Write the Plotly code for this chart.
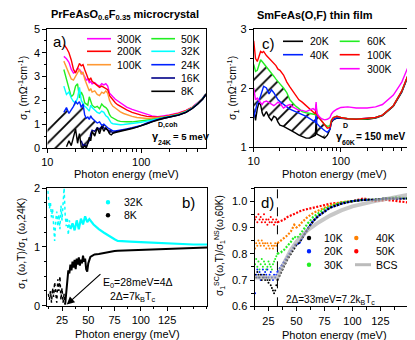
import plotly.graph_objects as go

W, H = 415, 340
FONT = "Liberation Sans, Arial, sans-serif"

# ---------------- panel a: PrFeAsO0.6F0.35 microcrystal ----------------
a_energy = [15, 16, 17, 18, 19, 20, 21, 22, 23, 24, 25, 26, 27, 28, 29, 30,
            32, 34, 36, 38, 40, 42, 44, 46, 48, 50, 53, 56, 60, 65, 70,
            80, 90, 100, 115, 130, 150, 175, 200, 250, 300, 350, 400, 450, 490]
a_300K = [3.85, 3.75, 3.6, 3.3, 3.15, 3.2, 3.35, 3.3, 3.2, 3.1, 3.0, 2.85, 2.9, 2.75, 2.8, 2.7,
          2.75, 2.65, 2.6, 2.7, 2.65, 2.7, 2.6, 2.3, 2.2, 2.15, 2.05, 1.98, 1.9, 1.8, 1.72,
          1.62, 1.55, 1.48, 1.4, 1.35, 1.32, 1.35, 1.39, 1.47, 1.58, 1.72, 1.9, 2.08, 2.28]
a_200K = [4.35, 4.2, 4.0, 3.7, 3.3, 3.15, 3.35, 3.55, 3.45, 3.5, 3.3, 3.1, 2.95, 2.85, 2.95, 2.8,
          2.7, 2.6, 2.55, 2.6, 2.55, 2.5, 2.45, 2.2, 2.1, 2.0, 1.9, 1.82, 1.75, 1.68, 1.6,
          1.5, 1.43, 1.38, 1.33, 1.3, 1.29, 1.32, 1.37, 1.45, 1.57, 1.71, 1.89, 2.08, 2.28]
a_100K = [3.65, 3.4, 3.1, 2.9, 2.85, 3.0, 3.2, 3.3, 3.1, 3.2, 2.9, 2.7, 2.5, 2.4, 2.5, 2.35,
          2.4, 2.25, 2.2, 2.35, 2.3, 2.4, 2.3, 2.0, 1.85, 1.75, 1.68, 1.6, 1.52, 1.45, 1.4,
          1.33, 1.28, 1.25, 1.24, 1.24, 1.26, 1.3, 1.35, 1.43, 1.55, 1.7, 1.88, 2.07, 2.27]
a_50K = [3.3, 2.9, 2.5, 2.15, 2.25, 2.6, 2.7, 2.1, 2.35, 2.2, 1.9, 1.85, 1.8, 2.15, 2.0, 1.8,
         1.7, 1.75, 1.65, 1.85, 1.75, 1.7, 1.6, 1.4, 1.3, 1.25, 1.2, 1.15, 1.12, 1.1, 1.1,
         1.1, 1.12, 1.13, 1.16, 1.2, 1.24, 1.28, 1.33, 1.41, 1.53, 1.69, 1.87, 2.07, 2.27]
a_32K = [2.6, 2.25, 2.35, 2.1, 1.95, 1.9, 2.1, 2.55, 2.0, 1.85, 1.75, 1.7, 1.6, 1.55, 1.8, 1.7,
         1.6, 1.5, 1.45, 1.55, 1.5, 1.35, 1.3, 1.15, 1.05, 1.02, 1.0, 0.98, 0.98, 0.99, 1.0,
         1.02, 1.05, 1.08, 1.13, 1.18, 1.22, 1.27, 1.32, 1.4, 1.52, 1.68, 1.87, 2.07, 2.27]
a_24K = [1.5, 1.7, 1.45, 1.6, 1.75, 1.95, 1.85, 1.95, 1.7, 1.85, 1.4, 1.25, 1.3, 1.2, 1.35, 1.25,
         1.15, 1.05, 1.1, 0.95, 1.0, 0.9, 0.85, 0.8, 0.75, 0.72, 0.72, 0.73, 0.75, 0.78, 0.8,
         0.85, 0.9, 0.95, 1.05, 1.13, 1.2, 1.26, 1.31, 1.39, 1.51, 1.67, 1.86, 2.06, 2.26]
a_16K = [None, None, None, None, None, None, None, None, 0.3, 0.1, 0.15, 0.05, 0.2, 0.3, 0.6, 0.75,
         0.7, 0.85, 0.8, 0.9, 0.85, 0.8, 0.78, 0.7, 0.68, 0.66, 0.68, 0.7, 0.72, 0.74, 0.77,
         0.82, 0.88, 0.94, 1.03, 1.11, 1.19, 1.25, 1.3, 1.38, 1.5, 1.66, 1.85, 2.05, 2.25]
a_8K = [None, 0.05, 0.3, 0.1, 0.5, 0.8, 0.2, 0.6, 0.05, 0.0, 0.1, 0.0, 0.2, 0.45, 0.3, 0.7,
        0.5, 0.85, 0.6, 0.9, 0.7, 0.85, 0.75, 0.6, 0.55, 0.62, 0.65, 0.67, 0.7, 0.73, 0.76,
        0.82, 0.88, 0.93, 1.02, 1.1, 1.18, 1.25, 1.3, 1.38, 1.5, 1.66, 1.85, 2.05, 2.25]
# Drude extrapolation of the 24K curve below the measured range
a_drude_energy = [10, 12, 14]
a_drude_24K = [1.15, 1.35, 1.5]

# ---------------- panel c: SmFeAs(O,F) thin film ----------------
c_energy = [10, 10.5, 11, 11.5, 12, 12.5, 13, 14, 15, 16, 17, 18, 19, 20,
            22, 24, 26, 28, 30, 33, 36, 40, 44, 48, 51, 52, 53, 56, 60,
            65, 70, 75, 78, 82, 90, 100, 120, 150, 200, 250, 300, 400, 500, 600, 690]
c_100K = [2.8, 2.5, 2.45, 2.55, 2.62, 2.6, 2.62, 2.55, 2.5, 2.45, 2.42, 2.38, 2.32, 2.3,
          2.22, 2.1, 2.02, 1.95, 1.88, 1.8, 1.76, 1.7, 1.65, 1.6, 1.56, 1.68, 1.55, 1.5, 1.44,
          1.38, 1.32, 1.33, 1.45, 1.5, 1.52, 1.5, 1.48, 1.47, 1.48, 1.5, 1.54, 1.7, 1.95, 2.25, 2.48]
c_60K = [2.4, 2.28, 2.3, 2.42, 2.48, 2.45, 2.42, 2.35, 2.3, 2.25, 2.2, 2.15, 2.1, 2.07,
         2.0, 1.92, 1.8, 1.74, 1.7, 1.65, 1.6, 1.58, 1.57, 1.55, 1.55, 1.72, 1.54, 1.5, 1.45,
         1.38, 1.35, 1.36, 1.46, 1.5, 1.52, 1.5, 1.48, 1.47, 1.48, 1.5, 1.54, 1.7, 1.95, 2.25, 2.48]
c_40K = [1.5, 1.65, 1.75, 1.78, 1.85, 1.95, 2.03, 2.0, 1.9, 1.97, 1.92, 1.85, 1.8, 1.77,
         1.73, 1.68, 1.64, 1.62, 1.6, 1.57, 1.55, 1.52, 1.48, 1.45, 1.42, 1.58, 1.4, 1.36, 1.32,
         1.28, 1.25, 1.3, 1.44, 1.47, 1.5, 1.49, 1.48, 1.47, 1.48, 1.5, 1.54, 1.7, 1.94, 2.24, 2.47]
c_20K = [1.65, 1.45, 1.65, 1.75, 1.72, 1.58, 1.52, 1.6, 1.5, 1.45, 1.52, 1.5, 1.42, 1.37,
         1.35, 1.32, 1.3, 1.26, 1.24, 1.2, 1.18, 1.15, 1.15, 1.18, 1.2, 1.46, 1.22, 1.2, 1.17,
         1.15, 1.2, 1.3, 1.42, 1.46, 1.49, 1.49, 1.48, 1.47, 1.47, 1.49, 1.53, 1.69, 1.93, 2.23, 2.46]
c_300K = [2.0, 1.8, 1.83, 1.78, 1.75, 1.72, 1.76, 1.78, 1.75, 1.72, 1.7, 1.73, 1.76, 1.74,
          1.66, 1.7, 1.72, 1.68, 1.65, 1.62, 1.62, 1.6, 1.63, 1.65, 1.62, 1.76, 1.58, 1.52, 1.48,
          1.46, 1.47, 1.5, 1.56, 1.6, 1.64, 1.67, 1.68, 1.66, 1.66, 1.68, 1.72, 1.88, 2.1, 2.38, 2.6]

# ---------------- panel b: ratio sigma1(T)/sigma1(24K) ----------------
b_32K_low_E = [11.5, 12, 13, 14, 15, 16, 17, 18, 19, 20, 21, 22, 23, 24, 25, 26, 27, 28, 29, 30, 31, 32, 33]
b_32K_low = [1.95, 1.85, 1.65, 1.75, 1.5, 1.65, 1.3, 1.1, 1.45, 1.6, 1.35, 1.55, 1.3, 1.7, 1.45, 1.75,
             2.0, 1.55, 1.35, 1.5, 1.2, 1.45, 1.3]
b_32K_E = [33, 35, 37, 39, 41, 43, 45, 47, 49, 51, 55, 60, 65, 70, 75, 78, 80, 90, 100, 110, 120,
           130, 140, 150, 163]
b_32K = [1.3, 1.4, 1.28, 1.45, 1.3, 1.48, 1.38, 1.52, 1.42, 1.47, 1.38, 1.3, 1.24, 1.18, 1.13, 1.1,
         1.1, 1.09, 1.08, 1.07, 1.06, 1.05, 1.045, 1.04, 1.04]
b_8K_low_E = [12, 13, 14, 15, 16, 17, 18, 19, 20, 21, 22, 23, 24, 25, 26, 27, 28]
b_8K_low = [0.2, 0.1, 0.25, 0.05, 0.3, 0.15, 0.4, 0.2, 0.05, 0.45, 0.25, 0.5, 0.1, 0.3, 0.05, 0.2, 0.02]
b_8K_E = [28, 29, 30, 31, 32, 33, 34, 35, 36, 37, 38, 39, 40, 41, 42, 43, 44, 45, 46, 47, 48, 49,
          50, 51, 52, 54, 56, 60, 65, 70, 75, 78, 85, 90, 100, 110, 120, 130, 140, 150, 163]
b_8K = [0.02, 0.2, 0.45, 0.6, 0.55, 0.7, 0.6, 0.75, 0.65, 0.78, 0.62, 0.8, 0.7, 0.82, 0.68, 0.78,
        0.72, 0.85, 0.75, 0.8, 0.62, 0.58, 0.72, 0.8, 0.83, 0.85, 0.87, 0.88, 0.9, 0.92, 0.93,
        0.935, 0.94, 0.945, 0.95, 0.96, 0.965, 0.975, 0.98, 0.985, 0.99]
b_E0 = 28

# ---------------- panel d: sigma1_SC / sigma1_NS(60K) ----------------
d_low_E = [13, 14, 15, 16, 17, 18, 19, 20, 21, 22, 23, 24, 25, 26, 27, 28, 29, 30, 31, 32, 33]
d_50K_low = [0.93, 0.94, 0.92, 0.95, 0.93, 0.94, 0.92, 0.93, 0.95, 0.92, 0.93, 0.91, 0.93, 0.92,
             0.94, 0.92, 0.93, 0.91, 0.92, 0.93, 0.92]
d_40K_low = [0.82, 0.84, 0.83, 0.85, 0.84, 0.83, 0.85, 0.84, 0.83, 0.84, 0.82, 0.84, 0.83, 0.82,
             0.84, 0.83, 0.82, 0.83, 0.84, 0.83, 0.84]
d_30K_low = [0.76, 0.78, 0.75, 0.77, 0.74, 0.76, 0.78, 0.75, 0.77, 0.76, 0.74, 0.75, 0.77, 0.76,
             0.75, 0.74, 0.76, 0.77, 0.78, 0.79, 0.8]
d_20K_low = [0.65, 0.72, 0.74, 0.71, 0.73, 0.7, 0.72, 0.74, 0.71, 0.73, 0.72, 0.74, 0.71, 0.72,
             0.73, 0.71, 0.7, 0.72, 0.71, 0.72, 0.73]
d_10K_low = [0.72, 0.71, 0.73, 0.72, 0.71, 0.72, 0.7, 0.71, 0.72, 0.7, 0.71, 0.7, 0.69, 0.7,
             0.68, 0.67, 0.66, 0.65, 0.66, 0.68, 0.7]
d_high_E = [33, 36, 39, 42, 45, 48, 50, 52, 55, 60, 65, 70, 75, 80, 90, 100, 110, 120, 130, 140, 150, 155]
d_50K = [0.92, 0.925, 0.93, 0.94, 0.945, 0.95, 0.955, 0.96, 0.965, 0.97, 0.975, 0.98, 0.985, 0.99,
         0.995, 1.0, 1.01, 1.0, 1.005, 1.0, 0.995, 1.0]
d_40K = [0.84, 0.85, 0.86, 0.87, 0.885, 0.91, 0.9, 0.905, 0.92, 0.94, 0.955, 0.965, 0.975, 0.985,
         0.995, 1.0, 1.005, 1.005, 1.01, 1.01, 1.01, 1.01]
d_30K = [0.8, 0.805, 0.815, 0.83, 0.845, 0.865, 0.86, 0.865, 0.885, 0.915, 0.94, 0.955, 0.97, 0.98,
         0.995, 1.0, 1.005, 1.005, 1.01, 1.015, 1.01, 1.015]
d_20K = [0.73, 0.75, 0.77, 0.79, 0.81, 0.83, 0.84, 0.835, 0.86, 0.895, 0.925, 0.945, 0.96, 0.975,
         0.99, 1.0, 1.005, 1.005, 1.01, 1.01, 1.01, 1.01]
d_10K = [0.7, 0.73, 0.755, 0.78, 0.8, 0.82, 0.835, 0.84, 0.86, 0.895, 0.925, 0.945, 0.96, 0.975,
         0.99, 1.0, 1.005, 1.005, 1.01, 1.01, 1.01, 1.01]
d_bcs_E = [13, 33, 36, 40, 45, 50, 55, 60, 70, 80, 90, 100, 120, 140, 155]
d_bcs = [0.71, 0.71, 0.74, 0.775, 0.815, 0.845, 0.87, 0.89, 0.92, 0.945, 0.965, 0.98, 1.0, 1.015, 1.028]
d_gap = 33

COL = {"300K": "#ff00ff", "200K": "#ff0000", "100K": "#ff9933", "50K": "#22ee22",
       "32K": "#00ffff", "24K": "#0022ff", "16K": "#000088", "8K": "#000000"}

fig = go.Figure()


def line(x, y, color, ax, width=1.4, dash=None):
    fig.add_trace(go.Scatter(x=x, y=y, mode="lines", xaxis=ax[0], yaxis=ax[1],
                             line=dict(color=color, width=width, dash=dash),
                             showlegend=False, hoverinfo="skip"))


def dots(x, y, color, ax, size=2):
    fig.add_trace(go.Scatter(x=x, y=y, mode="markers", xaxis=ax[0], yaxis=ax[1],
                             marker=dict(color=color, size=size, line=dict(width=0)),
                             showlegend=False, hoverinfo="skip"))


def hatch(xt, yt, xb, yb, ax):
    fig.add_trace(go.Scatter(x=list(xt) + list(xb)[::-1], y=list(yt) + list(yb)[::-1],
                             mode="lines", fill="toself", xaxis=ax[0], yaxis=ax[1],
                             line=dict(width=0), fillcolor="rgba(0,0,0,0)",
                             fillpattern=dict(shape="/", fgcolor="black", bgcolor="rgba(0,0,0,0)",
                                              size=9, solidity=0.2),
                             showlegend=False, hoverinfo="skip"))


# panel a
A = ("x", "y")
sel = [i for i, e in enumerate(a_energy) if e <= 50]
hx = a_drude_energy + [a_energy[i] for i in sel]
hatch(hx, a_drude_24K + [a_24K[i] for i in sel],
      hx, [0] * len(a_drude_energy) + [a_8K[i] or 0 for i in sel], A)
for name, ys in [("300K", a_300K), ("200K", a_200K), ("100K", a_100K), ("50K", a_50K),
                 ("32K", a_32K), ("24K", a_24K), ("16K", a_16K), ("8K", a_8K)]:
    line(a_energy, ys, COL[name], A)

# panel c
C = ("x2", "y2")
sel = [i for i, e in enumerate(c_energy) if e <= 65]
hx = [c_energy[i] for i in sel]
hatch(hx, [c_60K[i] for i in sel], hx, [c_20K[i] for i in sel], C)
line(c_energy, c_20K, "#000000", C)
line(c_energy, c_40K, "#0022ff", C)
line(c_energy, c_60K, "#22ee22", C)
line(c_energy, c_100K, "#ff0000", C)
line(c_energy, c_300K, "#ff00ff", C)

# panel b
B = ("x3", "y3")
line(b_32K_low_E, b_32K_low, "#00ffff", B, width=1.5, dash="dot")
line(b_32K_E, b_32K, "#00ffff", B, width=2.2)
line(b_8K_low_E, b_8K_low, "#000000", B, width=1.5, dash="dot")
line(b_8K_E, b_8K, "#000000", B, width=2)

# panel d
D = ("x4", "y4")
for lo, hi, color in [(d_50K_low, d_50K, "#ff0000"), (d_40K_low, d_40K, "#ff8000"),
                      (d_30K_low, d_30K, "#22ee22"), (d_20K_low, d_20K, "#0022ff"),
                      (d_10K_low, d_10K, "#000000")]:
    dots(d_low_E, lo, color, D)
    line(d_high_E, hi, color, D, width=2.2, dash="2px,1.5px")
line(d_bcs_E, d_bcs, "rgba(175,175,175,0.7)", D, width=4)


def axis_common():
    return dict(showline=True, linecolor="black", linewidth=1, mirror=True, ticks="outside",
                ticklen=4, tickcolor="black", showgrid=False, zeroline=False, automargin=False,
                tickfont=dict(size=11, family=FONT, color="black"))


minor_log_a = [20, 30, 40, 50, 60, 70, 80, 90, 200, 300, 400]
minor_log_c = minor_log_a + [500, 600]

fig.update_layout(
    template="none",
    width=W, height=H, margin=dict(l=0, r=0, t=0, b=0, pad=0), autosize=False,
    paper_bgcolor="white", plot_bgcolor="white", showlegend=False,
    font=dict(family=FONT, size=11, color="black"),
    xaxis=dict(**axis_common(), type="log", range=[1, 2.69], tickvals=[10, 100],
               domain=[39.3 / W, 198 / W], anchor="y",
               minor=dict(ticks="outside", ticklen=2.5, tickvals=minor_log_a, tickcolor="black")),
    yaxis=dict(**axis_common(), range=[0, 5], dtick=1, domain=[1 - 140 / H, 1 - 21 / H], anchor="x",
               minor=dict(ticks="outside", ticklen=2.5, dtick=0.5, tickcolor="black")),
    xaxis2=dict(**axis_common(), type="log", range=[1, 2.839], tickvals=[10, 100],
                domain=[245.7 / W, 406 / W], anchor="y2",
                minor=dict(ticks="outside", ticklen=2.5, tickvals=minor_log_c, tickcolor="black")),
    yaxis2=dict(**axis_common(), range=[1, 3], dtick=1, domain=[1 - 139 / H, 1 - 21 / H], anchor="x2",
                minor=dict(ticks="outside", ticklen=2.5, dtick=0.5, tickcolor="black")),
    xaxis3=dict(**axis_common(), range=[11, 163], tickvals=[25, 50, 75, 100, 125],
                domain=[39.3 / W, 199 / W], anchor="y3",
                minor=dict(ticks="outside", ticklen=2.5, dtick=12.5, tick0=0, tickcolor="black")),
    yaxis3=dict(**axis_common(), range=[0, 2], dtick=1, domain=[1 - 297.7 / H, 1 - 180 / H], anchor="x3",
                minor=dict(ticks="outside", ticklen=2.5, dtick=0.25, tickcolor="black")),
    xaxis4=dict(**axis_common(), range=[12.5, 155], tickvals=[25, 50, 75, 100, 125],
                domain=[246.5 / W, 406 / W], anchor="y4",
                minor=dict(ticks="outside", ticklen=2.5, dtick=12.5, tick0=0, tickcolor="black")),
    yaxis4=dict(**axis_common(), range=[0.6, 1.05], dtick=0.1, tick0=0.6, tickformat=".1f",
                domain=[1 - 298.3 / H, 1 - 180 / H], anchor="x4",
                minor=dict(ticks="outside", ticklen=2.5, dtick=0.05, tick0=0.6, tickcolor="black")),
)

# gap marker in panel d
fig.add_shape(type="line", xref="x4", yref="y4 domain", x0=d_gap, x1=d_gap, y0=0, y1=1,
              line=dict(color="black", width=1, dash="dash"))

notes = []
shapes = []


def note(text, x, y, size=10.5, xanchor="left", angle=0, bold=False):
    notes.append(dict(text=f"<b>{text}</b>" if bold else text, x=x / W, y=1 - y / H,
                      xref="paper", yref="paper", xanchor=xanchor, yanchor="middle",
                      showarrow=False, textangle=angle,
                      font=dict(size=size, family=FONT, color="black")))


def key_line(x0, x1, y, color, width=1.6):
    shapes.append(dict(type="line", xref="paper", yref="paper", x0=x0 / W, x1=x1 / W,
                       y0=1 - y / H, y1=1 - y / H, line=dict(color=color, width=width)))


def key_dot(x, y, color, r=2.2):
    shapes.append(dict(type="circle", xref="paper", yref="paper", x0=(x - r) / W, x1=(x + r) / W,
                       y0=1 - (y + r) / H, y1=1 - (y - r) / H, fillcolor=color,
                       line=dict(width=0)))


# titles
note("PrFeAsO<sub>0.6</sub>F<sub>0.35</sub> microcrystal", 117, 7, size=11, xanchor="center", bold=True)
note("SmFeAs(O,F) thin film", 307, 7, size=11, xanchor="center", bold=True)

# axis titles
sig = "σ<sub>1</sub> (mΩ<sup>-1</sup>cm<sup>-1</sup>)"
note(sig, 16, 80, xanchor="center", angle=-90)
note(sig, 225, 80, xanchor="center", angle=-90)
note("σ<sub>1</sub> (ω,T)/σ<sub>1</sub> (ω,24K)", 14, 236, xanchor="center", angle=-90)
note("σ<sub>1</sub><sup>SC</sup>(ω,T)/σ<sub>1</sub><sup>NS</sup>(ω,60K)", 212, 238, size=10,
     xanchor="center", angle=-90)
for xc, yc in [(118.5, 166), (326, 166), (119, 326), (326, 327)]:
    note("Photon energy (meV)", xc, yc, size=11, xanchor="center")

# panel labels
note("a)", 43, 34, size=15)
note("c)", 252, 36, size=15)
note("b)", 172, 194, size=15)
note("d)", 251, 194, size=15)

# panel a legend
for name, y in [("300K", 30.7), ("200K", 43.3), ("100K", 56.7)]:
    key_line(79, 103, y, COL[name])
    note(name, 107, y)
for name, y in [("50K", 30.7), ("32K", 43.3), ("24K", 56.7), ("16K", 70), ("8K", 83.3)]:
    key_line(143.3, 167, y, COL[name])
    note(name, 171, y)
note("γ", 142, 128, size=11, bold=True)
note("D,coh", 148, 117, size=7, bold=True)
note("24K", 148, 135, size=7, bold=True)
note("= 5 meV", 163, 128, size=9.5, bold=True)

# panel c legend
for name, color, y in [("20K", "#000000", 33.3), ("40K", "#0022ff", 46.7)]:
    key_line(275, 295, y, color)
    note(name, 300, y)
for name, color, y in [("60K", "#22ee22", 33.3), ("100K", "#ff0000", 46.7), ("300K", "#ff00ff", 60.7)]:
    key_line(331.7, 351.7, y, color)
    note(name, 357, y)
note("γ", 326, 128, size=11, bold=True)
note("D", 333, 117, size=7, bold=True)
note("60K", 332, 135, size=7, bold=True)
note("= 150 meV", 346, 128, size=10, bold=True)

# panel b legend and notes
key_dot(100, 194.3, "#00ffff")
note("32K", 114, 194.3)
key_dot(100, 207.3, "#000000")
note("8K", 114, 207.3)
note("E<sub>0</sub>=28meV=4Δ", 93, 275)
note("2Δ=7k<sub>B</sub>T<sub>c</sub>", 100, 289)
notes.append(dict(x=b_E0 + 1.5, y=0.02, ax=63, ay=0.56, xref="x3", yref="y3", axref="x3", ayref="y3",
                  text="", showarrow=True, arrowhead=2, arrowsize=1.3, arrowwidth=1.2,
                  arrowcolor="black"))

# panel d legend and note
for name, color, y in [("10K", "#000000", 230), ("20K", "#0022ff", 243.3), ("30K", "#22ee22", 256.7)]:
    key_dot(301, y, color)
    note(name, 314, y)
for name, color, y in [("40K", "#ff8000", 230), ("50K", "#ff0000", 243.3)]:
    key_dot(348.3, y, color)
    note(name, 366, y)
key_line(347, 363, 256.7, "#bbbbbb", width=3)
note("BCS", 366, 256.7)
note("2Δ=33meV=7.2k<sub>B</sub>T<sub>c</sub>", 276, 291.7, size=10)

fig.update_layout(annotations=notes)
for s in shapes:
    fig.add_shape(**s)

fig.write_html("out.html")
